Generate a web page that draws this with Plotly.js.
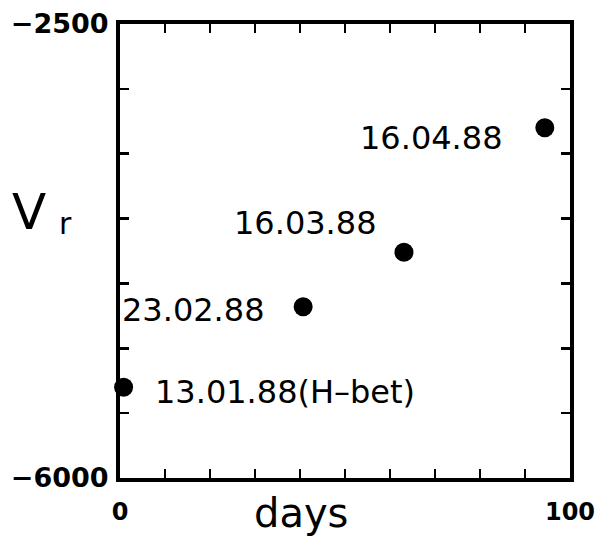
<!DOCTYPE html>
<html>
<head>
<meta charset="utf-8">
<script src="https://cdn.plot.ly/plotly-3.0.1.min.js"></script>
<style>html,body{margin:0;padding:0;background:#fff;}#chart{width:597px;height:542px;}</style>
</head>
<body>
<div id="chart"></div>
<script>
// Data
const days = [0.8, 40.7, 63.1, 94.4];
const vr = [-5300, -4680, -4260, -3300];
const labels = ['13.01.88(H\u2013bet)', '23.02.88', '16.03.88', '16.04.88'];

const xTickVals = [0, 10, 20, 30, 40, 50, 60, 70, 80, 90, 100];
const xTickText = ['0', '', '', '', '', '', '', '', '', '', '100'];
const yTickVals = [-6000, -5500, -5000, -4500, -4000, -3500, -3000, -2500];
const yTickText = ['\u22126000', '', '', '', '', '', '', '\u22122500'];

// label placement (pixel offsets from each point)
const labelPlace = [
  {xanchor: 'left', xshift: 29, yshift: -5},
  {xanchor: 'right', xshift: -36, yshift: -3},
  {xanchor: 'right', xshift: -25, yshift: 29},
  {xanchor: 'right', xshift: -40, yshift: -10}
];

const labelFont = {family: 'DejaVu Sans', size: 32, color: '#000'};
const yTickFont = {family: 'DejaVu Sans', size: 27, color: '#000', weight: 'bold'};
const xTickFont = {family: 'DejaVu Sans', size: 24, color: '#000', weight: 'bold'};

const trace = {
  x: days, y: vr, type: 'scatter', mode: 'markers',
  marker: {color: '#000', size: 19},
  cliponaxis: false, hoverinfo: 'skip', showlegend: false
};

const annotations = labels.map((t, i) => Object.assign({
  x: days[i], y: vr[i], xref: 'x', yref: 'y', text: t, showarrow: false,
  yanchor: 'middle', font: labelFont
}, labelPlace[i]));

annotations.push({
  xref: 'paper', yref: 'paper', x: 0.402, y: -0.077, xanchor: 'center', yanchor: 'middle',
  text: 'days', showarrow: false, font: {family: 'DejaVu Sans', size: 40, color: '#000'}
});
annotations.push({
  xref: 'paper', yref: 'paper', x: -0.245, y: 0.585, xanchor: 'left', yanchor: 'middle',
  text: 'V', showarrow: false, font: {family: 'DejaVu Sans', size: 50, color: '#000'}
});
annotations.push({
  xref: 'paper', yref: 'paper', x: -0.14, y: 0.56, xanchor: 'left', yanchor: 'middle',
  text: 'r', showarrow: false, font: {family: 'DejaVu Sans', size: 30, color: '#000'}
});

const layout = {
  width: 597, height: 542,
  margin: {l: 120, r: 27, t: 24, b: 64, pad: 0},
  paper_bgcolor: '#fff', plot_bgcolor: '#fff',
  showlegend: false,
  xaxis: {
    range: [0, 100], tickmode: 'array', tickvals: xTickVals, ticktext: xTickText,
    ticks: 'inside', ticklen: 9, tickwidth: 2.5, tickcolor: '#000',
    showline: true, linewidth: 4, linecolor: '#000', mirror: 'ticks',
    showgrid: false, zeroline: false, tickfont: xTickFont, ticklabelstandoff: 9,
    fixedrange: true
  },
  yaxis: {
    range: [-6000, -2500], tickmode: 'array', tickvals: yTickVals, ticktext: yTickText,
    ticks: 'inside', ticklen: 9, tickwidth: 2.5, tickcolor: '#000',
    showline: true, linewidth: 4, linecolor: '#000', mirror: 'ticks',
    showgrid: false, zeroline: false, tickfont: yTickFont, ticklabelstandoff: 2,
    fixedrange: true
  },
  annotations: annotations
};

Plotly.newPlot('chart', [trace], layout, {staticPlot: true, displayModeBar: false});
</script>
</body>
</html>
